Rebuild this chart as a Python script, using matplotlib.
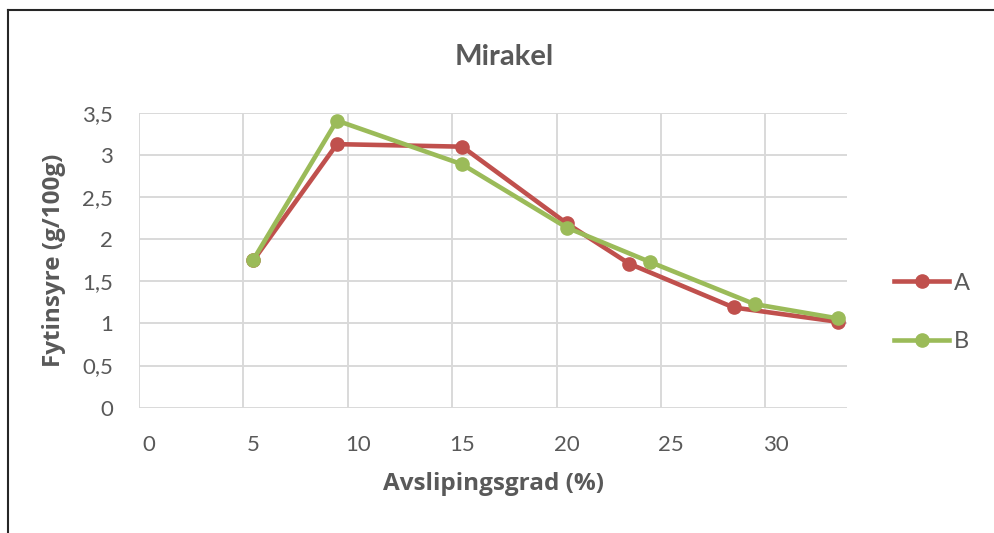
import matplotlib.pyplot as plt
from matplotlib.lines import Line2D
from matplotlib.transforms import ScaledTranslation

# Avslipingsgrad (%) og fytinsyre (g/100g) for Mirakel
grad_a = [5, 9, 15, 20, 23, 28, 33]
fytin_a = [1.75, 3.13, 3.10, 2.19, 1.71, 1.19, 1.02]

grad_b = [5, 9, 15, 20, 24, 29, 33]
fytin_b = [1.76, 3.41, 2.89, 2.14, 1.73, 1.23, 1.06]

x_ticks = [0, 5, 10, 15, 20, 25, 30]
y_ticks = [0, 0.5, 1, 1.5, 2, 2.5, 3, 3.5]
y_labels = ['0', '0,5', '1', '1,5', '2', '2,5', '3', '3,5']

red = '#C0504D'
green = '#9BBB59'
text_grey = '#595959'
grid_grey = '#D9D9D9'

plt.rcParams['font.family'] = ['Lato', 'DejaVu Sans']

fig = plt.figure(figsize=(9.95, 5.33), dpi=100)
ax = fig.add_axes([0.1397, 0.2351, 0.7116, 0.5529])

ax.plot(grad_a, fytin_a, color=red, lw=3.3, marker='o', ms=9.5, label='A',
        solid_joinstyle='round', zorder=3)
ax.plot(grad_b, fytin_b, color=green, lw=3.3, marker='o', ms=9.5, label='B',
        solid_joinstyle='round', zorder=4)

ax.set_xlim(-0.48, 33.43)
ax.set_ylim(0, 3.5)
ax.set_xticks(x_ticks)
ax.set_xticklabels([str(t) for t in x_ticks])
ax.set_yticks(y_ticks)
ax.set_yticklabels(y_labels)

for s in ax.spines.values():
    s.set_visible(False)
ax.tick_params(length=0, labelsize=16, labelcolor=text_grey)
ax.tick_params(axis='x', pad=19.5)
ax.tick_params(axis='y', pad=18.5)
ax.grid(True, color=grid_grey, lw=1.4)
ax.set_axisbelow(True)

# vertical gridlines sit a little left of their labels
shift = ScaledTranslation(-10 / 100, 0, fig.dpi_scale_trans)
for gl in ax.get_xgridlines():
    gl.set_transform(gl.get_transform() + shift)

fig.text(0.507, 0.893, 'Mirakel', ha='center', va='center',
         fontsize=21, fontweight='bold', color=text_grey)
fig.text(0.496, 0.092, 'Avslipingsgrad (%)', ha='center', va='center',
         fontsize=17.5, fontweight='bold', color=text_grey, family='Open Sans')
fig.text(0.054, 0.511, 'Fytinsyre (g/100g)', ha='center', va='center',
         rotation=90, fontsize=17.5, fontweight='bold', color=text_grey,
         family='Open Sans')

leg = ax.legend(loc='upper left', bbox_to_anchor=(0.8985, 0.4885),
                bbox_transform=fig.transFigure, frameon=False, fontsize=17,
                borderaxespad=0, borderpad=0, handlelength=2.33,
                handletextpad=0.21, labelspacing=1.6)
for t in leg.get_texts():
    t.set_color(text_grey)

# chart area frame (left and top edges)
fig.add_artist(Line2D([8 / 995, 8 / 995], [0, 1 - 10 / 533],
                      color='#262626', lw=1.5))
fig.add_artist(Line2D([8 / 995, 1], [1 - 10 / 533, 1 - 10 / 533],
                      color='#262626', lw=1.5))

fig.savefig('out.png', dpi=100)
